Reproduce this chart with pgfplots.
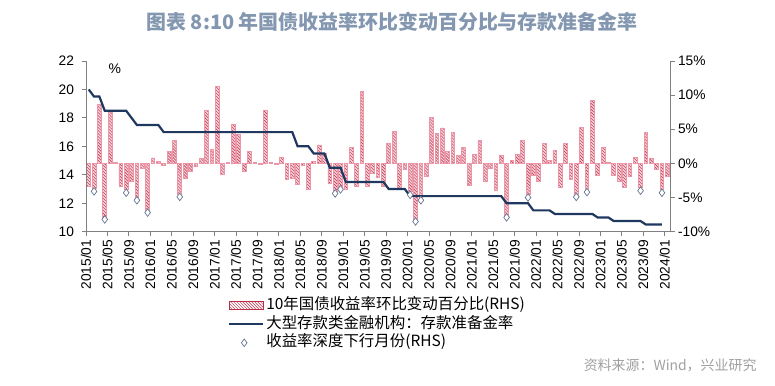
\documentclass[border=0pt]{standalone}
\usepackage{pgfplots}
\pgfplotsset{compat=1.18}
\usetikzlibrary{patterns}
\usepackage{fontspec}
\setmainfont{Liberation Sans}
\newfontfamily\cjk{Noto Sans CJK SC}
\definecolor{barred}{RGB}{185,45,70}
\definecolor{barpink}{RGB}{236,150,168}
\definecolor{navy}{RGB}{31,56,96}
\definecolor{axgray}{RGB}{128,128,128}
\definecolor{titlec}{RGB}{132,151,176}
\definecolor{diam}{RGB}{100,118,145}
\definecolor{srcgray}{RGB}{160,160,160}
\begin{document}
\begin{tikzpicture}[x=1bp,y=1bp]
\path[use as bounding box] (0,0) rectangle (775,385);
\pgfplotsset{common/.style={at={(86bp,153.3bp)}, anchor=south west, scale only axis,
  width=584bp, height=170.7bp, xmin=0, xmax=109, tick align=outside, major tick length=4.5bp,
  axis line style={axgray, line width=0.8bp}, tick style={axgray, line width=0.8bp},
  ticklabel style={font=\fontsize{13.8}{16}\selectfont},
  /pgf/number format/assume math mode=true}}
% bars (right axis)
\begin{axis}[common, ymin=-10, ymax=15, axis x line=none, axis y line*=right,
  ytick={-10,-5,...,15}, yticklabels={-10\%,-5\%,0\%,5\%,10\%,15\%}]
\addplot[ybar, bar width=0.7, draw=barpink, line width=0.8bp, preaction={fill=barpink!45}, pattern=north west lines, pattern color=barred] coordinates {
(0.5,-3.3)(1.5,-3.6)(2.5,8.7)(3.5,-8.0)(4.5,7.5)(5.5,0.1)(6.5,-3.4)(7.5,-3.8)(8.5,-2.6)(9.5,-5.0)
(10.5,-0.7)(11.5,-6.9)(12.5,0.8)(13.5,0.3)(14.5,-0.3)(15.5,1.8)(16.5,3.4)(17.5,-4.5)(18.5,-2.2)(19.5,-1.2)
(20.5,-0.5)(21.5,0.7)(22.5,7.8)(23.5,2.1)(24.5,11.3)(25.5,-1.6)(26.5,0.2)(27.5,5.7)(28.5,4.2)(29.5,-1.2)
(30.5,1.7)(31.5,0.1)(32.5,-0.2)(33.5,7.8)(34.5,0.1)(35.5,-0.2)(36.5,0.9)(37.5,-2.4)(38.5,-2.2)(39.5,-3.1)
(40.5,-0.3)(41.5,-3.8)(42.5,0.3)(43.5,2.7)(44.5,1.5)(45.5,-2.9)(46.5,-4.1)(47.5,-3.6)(48.5,-3.8)(49.5,2.3)
(50.5,-3.3)(51.5,10.5)(52.5,-3.3)(53.5,-1.5)(54.5,-2.1)(55.5,-3.3)(56.5,2.9)(57.5,4.7)(58.5,-3.5)(59.5,-0.9)
(60.5,-4.1)(61.5,-8.5)(62.5,-5.1)(63.5,-1.9)(64.5,6.7)(65.5,4.4)(66.5,5.2)(67.5,1.8)(68.5,4.5)(69.5,1.2)
(70.5,2.3)(71.5,-3.2)(72.5,1.3)(73.5,3.3)(74.5,-2.7)(75.5,-0.8)(76.5,-3.9)(77.5,1.2)(78.5,-7.9)(79.5,0.4)
(80.5,1.3)(81.5,3.4)(82.5,-4.5)(83.5,-1.7)(84.5,-2.7)(85.5,2.9)(86.5,0.5)(87.5,1.9)(88.5,-3.5)(89.5,2.9)
(90.5,-2.3)(91.5,-4.5)(92.5,5.3)(93.5,-3.9)(94.5,9.2)(95.5,-1.8)(96.5,2.3)(97.5,0.1)(98.5,-1.8)(99.5,-2.6)
(100.5,-3.5)(101.5,-1.9)(102.5,0.9)(103.5,-3.5)(104.5,4.6)(105.5,0.7)(106.5,-0.9)(107.5,-3.8)(108.5,-1.9)
};
\end{axis}
% line (left axis) + x axis
\begin{axis}[common, ymin=10, ymax=22, axis x line*=bottom, axis y line*=left,
  ytick={10,12,...,22}, xtick={0,4,...,108}, yticklabel style={xshift=-4bp},
  xticklabels={2015/01,2015/05,2015/09,2016/01,2016/05,2016/09,2017/01,2017/05,2017/09,2018/01,2018/05,2018/09,2019/01,2019/05,2019/09,2020/01,2020/05,2020/09,2021/01,2021/05,2021/09,2022/01,2022/05,2022/09,2023/01,2023/05,2023/09,2024/01},
  xticklabel style={rotate=90, anchor=east}]
\addplot[navy, line width=2.2bp, no marks] coordinates {
(0.5,20)(1.5,19.5)(2.5,19.5)(3.5,18.5)(4.5,18.5)(5.5,18.5)(6.5,18.5)(7.5,18.5)(8.5,18)(9.5,17.5)
(10.5,17.5)(11.5,17.5)(12.5,17.5)(13.5,17.5)(14.5,17)(15.5,17)(16.5,17)(17.5,17)(18.5,17)(19.5,17)
(20.5,17)(21.5,17)(22.5,17)(23.5,17)(24.5,17)(25.5,17)(26.5,17)(27.5,17)(28.5,17)(29.5,17)
(30.5,17)(31.5,17)(32.5,17)(33.5,17)(34.5,17)(35.5,17)(36.5,17)(37.5,17)(38.5,17)(39.5,16)
(40.5,16)(41.5,16)(42.5,15.5)(43.5,15.5)(44.5,15.5)(45.5,14.5)(46.5,14.5)(47.5,14.5)(48.5,13.5)(49.5,13.5)
(50.5,13.5)(51.5,13.5)(52.5,13.5)(53.5,13.5)(54.5,13.5)(55.5,13.5)(56.5,13)(57.5,13)(58.5,13)(59.5,13)
(60.5,12.5)(61.5,12.5)(62.5,12.5)(63.5,12.5)(64.5,12.5)(65.5,12.5)(66.5,12.5)(67.5,12.5)(68.5,12.5)(69.5,12.5)
(70.5,12.5)(71.5,12.5)(72.5,12.5)(73.5,12.5)(74.5,12.5)(75.5,12.5)(76.5,12.5)(77.5,12.5)(78.5,12)(79.5,12)
(80.5,12)(81.5,12)(82.5,12)(83.5,11.5)(84.5,11.5)(85.5,11.5)(86.5,11.5)(87.5,11.25)(88.5,11.25)(89.5,11.25)
(90.5,11.25)(91.5,11.25)(92.5,11.25)(93.5,11.25)(94.5,11.25)(95.5,11)(96.5,11)(97.5,11)(98.5,10.75)(99.5,10.75)
(100.5,10.75)(101.5,10.75)(102.5,10.75)(103.5,10.75)(104.5,10.5)(105.5,10.5)(106.5,10.5)(107.5,10.5)
};
\end{axis}
% diamonds + legend
\begin{axis}[common, ymin=-10, ymax=15, hide axis,
  legend style={at={(0.243,-0.383)}, anchor=north west, draw=none, fill=none,
    font=\cjk\fontsize{15.5}{18}\selectfont, row sep=2.75bp, inner sep=0pt,
    nodes={inner xsep=2bp, inner ysep=0bp, text height=12bp, text depth=4bp}},
  legend cell align=left]
\addlegendimage{legend image code/.code={\draw[draw=barred, line width=0.6bp, pattern=north west lines, pattern color=barred] (0bp,-4bp) rectangle (34bp,4bp);}}
\addlegendentry{10年国债收益率环比变动百分比(RHS)}
\addlegendimage{legend image code/.code={\draw[navy, line width=2.2bp] (0bp,0bp) -- (34bp,0bp);}}
\addlegendentry{大型存款类金融机构：存款准备金率}
\addlegendimage{legend image code/.code={\path[draw=diam, fill=white, line width=0.7bp] plot[mark=diamond*, mark size=3.8bp] coordinates {(15bp,0bp)};}}
\addlegendentry{收益率深度下行月份(RHS)}
\addplot[only marks, mark=diamond*, mark size=3.8bp, mark options={fill=white, draw=diam, line width=0.7bp}] coordinates {
(1.5,-4.1)(3.5,-8.2)(7.5,-4.3)(9.5,-5.4)(11.5,-7.2)(17.5,-4.9)(46.5,-4.4)(47.5,-3.8)(60.5,-4.6)
(61.5,-8.5)(62.5,-5.4)(78.5,-7.9)(82.5,-5.0)(91.5,-4.9)(93.5,-4.2)(103.5,-4.0)(107.5,-4.3)
};
\end{axis}
\node[font=\fontsize{14}{16}\selectfont] at (114.7,316.7) {\%};
\node[font=\cjk\bfseries\fontsize{20}{24}\selectfont, text=titlec] at (392,363) {图表 8:10 年国债收益率环比变动百分比与存款准备金率};
\node[font=\cjk\fontsize{14}{16}\selectfont, text=srcgray, anchor=east] at (760,20) {资料来源：Wind，兴业研究};
\end{tikzpicture}
\end{document}
